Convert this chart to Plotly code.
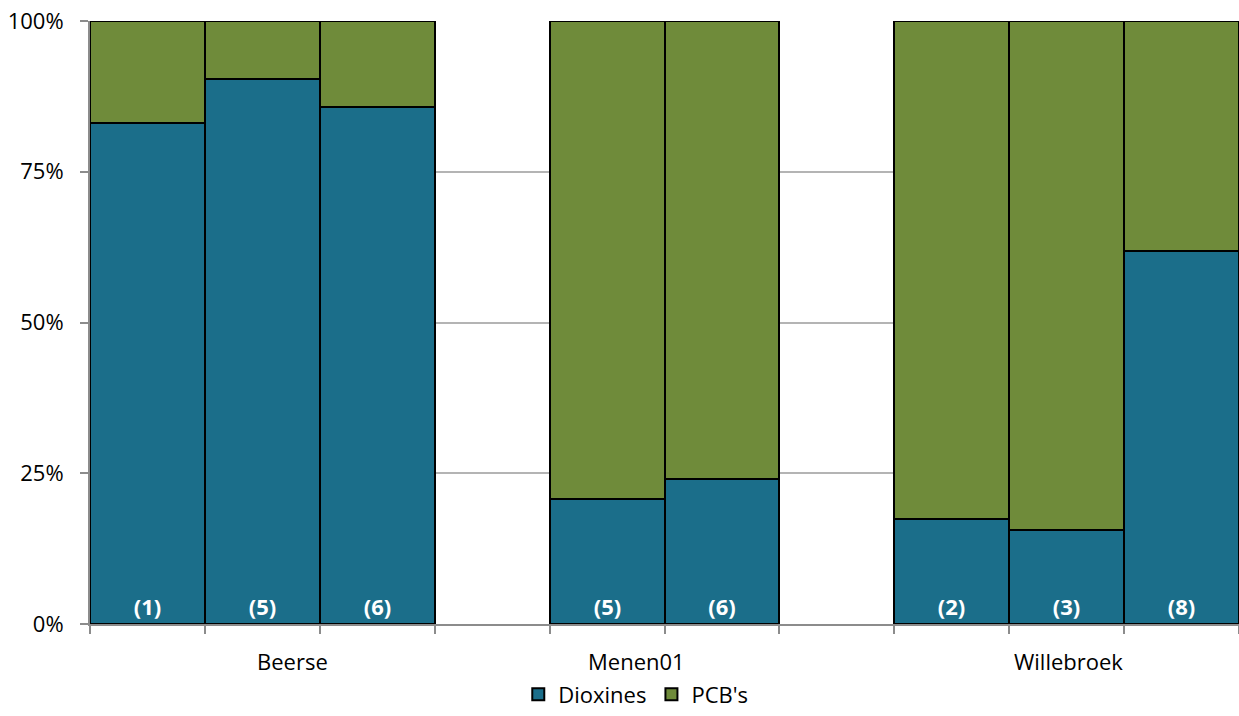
import plotly.graph_objects as go

# Share of TEQ per sampling campaign: dioxins vs. dioxin-like PCBs (percent)
sites = ["Beerse", "Menen01", "Willebroek"]
samples = [["(1)", "(5)", "(6)"], ["(5)", "(6)"], ["(2)", "(3)", "(8)"]]
dioxines = [[83.1, 90.4, 85.8], [20.7, 24.1], [17.4, 15.6, 61.9]]
pcbs = [[16.9, 9.6, 14.2], [79.3, 75.9], [82.6, 84.4, 38.1]]

series_names = ["Dioxines", "PCB's"]
series_colors = ["#1B6E8A", "#6F8B3A"]
y_ticks = [0, 25, 50, 75, 100]
y_ticklabels = ["0%", "25%", "50%", "75%", "100%"]

FONT = "Open Sans"
FS = 22

# Lay the bars out side by side, one empty slot between sites
xs, labels, dio, pcb = [], [], [], []
slot = 0
n_slots = sum(len(s) for s in samples) + len(sites) - 1
for i, site in enumerate(sites):
    for j, lab in enumerate(samples[i]):
        xs.append(slot)
        labels.append(lab)
        dio.append(dioxines[i][j])
        pcb.append(pcbs[i][j])
        slot += 1
    slot += 1

fig = go.Figure()
for name, vals, col in zip(series_names, [dio, pcb], series_colors):
    fig.add_trace(go.Bar(
        x=xs, y=vals, name=name, width=1.0,
        marker=dict(color=col, line=dict(color="#000000", width=2)),
        text=labels if name == "Dioxines" else None,
        textposition="inside" if name == "Dioxines" else "none",
        insidetextanchor="start",
        textangle=0,
        textfont=dict(family=FONT, size=FS, color="white", weight="bold"),
        hoverinfo="skip",
    ))

# Site labels under each group
site_x = [1.26, 4.26, 8.02]
for sx, site in zip(site_x, sites):
    fig.add_annotation(x=sx, y=0, xref="x", yref="y", text=site,
                       showarrow=False, yanchor="top", yshift=-20,
                       font=dict(family=FONT, size=FS, color="#000000"))

fig.update_layout(
    barmode="stack",
    bargap=0,
    width=1239, height=716,
    margin=dict(l=90, r=0, t=21, b=89),
    paper_bgcolor="white", plot_bgcolor="white",
    font=dict(family=FONT, size=FS, color="#000000"),
    legend=dict(orientation="h", x=0.475, xanchor="center", y=-0.117,
                yanchor="middle", font=dict(family=FONT, size=FS, color="#000000"),
                traceorder="normal", itemwidth=30, tracegroupgap=0),
    xaxis=dict(range=[-0.5, n_slots - 0.5],
               tickvals=[k - 0.5 for k in range(n_slots + 1)],
               ticktext=[""] * (n_slots + 1),
               ticks="outside", ticklen=8, tickcolor="#8C8C8C", tickwidth=2,
               showline=True, linecolor="#8C8C8C", linewidth=2,
               showgrid=False, zeroline=False, fixedrange=True),
    yaxis=dict(range=[0, 100], tickvals=y_ticks, ticktext=y_ticklabels,
               tickfont=dict(family=FONT, size=FS, color="#000000"),
               ticklabelstandoff=12,
               ticks="outside", ticklen=8, tickcolor="#8C8C8C", tickwidth=2,
               showline=True, linecolor="#8C8C8C", linewidth=2,
               showgrid=True, gridcolor="#B4B4B4", gridwidth=1.5,
               zeroline=False, fixedrange=True),
)

fig.write_html("out.html")
